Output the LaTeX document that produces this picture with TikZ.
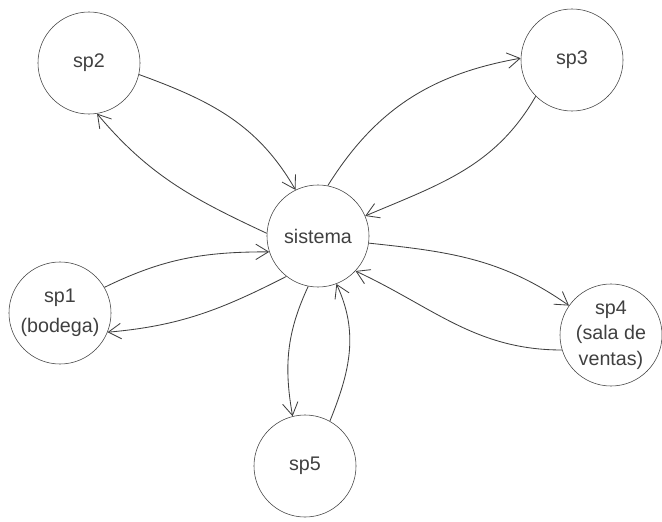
\documentclass[tikz,border=0pt]{standalone}
\usepackage{fontspec}
\setmainfont{Liberation Sans}
\usetikzlibrary{arrows.meta}

\begin{document}
\begin{tikzpicture}[
  x=0.025cm, y=0.025cm,
  proc/.style={draw=black!75, circle, minimum size=2.55cm, inner sep=0pt,
               align=center, text=black!75,
               font=\fontsize{14}{18}\selectfont},
  arr/.style={-{Straight Barb[length=9pt,width=11pt]}, draw=black!75,
              line width=0.6pt}
]
  \useasboundingbox (0,0) rectangle (662,521);

  \node[proc] (sistema) at (318,285) {sistema};
  \node[proc] (sp2) at (89,458) {sp2};
  \node[proc] (sp3) at (572,461) {sp3};
  \node[proc] (sp1) at (60,208) {sp1\\[3pt](bodega)};
  \node[proc] (sp4) at (611,186) {sp4\\(sala de\\ventas)};
  \node[proc] (sp5) at (305,55) {sp5};

  \draw[arr] (sp2.-13) to[out=-20, in=120] (sistema.116);
  \draw[arr] (sistema.177) to[out=155, in=-50] (sp2.-81);
  \draw[arr] (sistema.79) to[out=58, in=190] (sp3.178);
  \draw[arr] (sp3.225) to[out=-120, in=23] (sistema.23);
  \draw[arr] (sistema.-8) to[out=-6, in=145] (sp4.145);
  \draw[arr] (sp4.197) to[out=180, in=-25] (sistema.-43);
  \draw[arr] (sp1.30) to[out=26, in=180] (sistema.198);
  \draw[arr] (sistema.232) to[out=207, in=5] (sp1.-22);
  \draw[arr] (sistema.259) to[out=-115, in=100] (sp5.104);
  \draw[arr] (sp5.61) to[out=68, in=-65] (sistema.291);
\end{tikzpicture}
\end{document}
